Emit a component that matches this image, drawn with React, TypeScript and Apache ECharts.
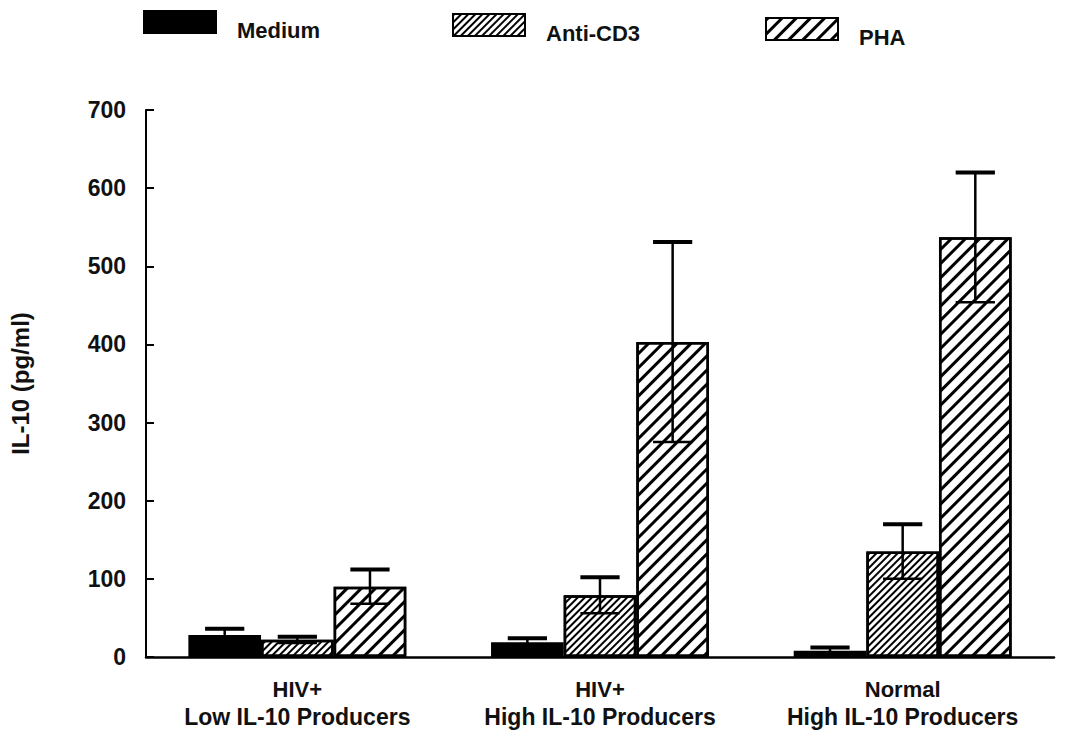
import React, { useEffect, useRef } from "react";
import * as echarts from "echarts";

const categories = ["HIV+|Low IL-10 Producers", "HIV+|High IL-10 Producers", "Normal|High IL-10 Producers"];
const seriesNames = ["Medium", "Anti-CD3", "PHA"];
const mediumValues = [28, 19, 8];
const antiCD3Values = [22, 79, 135];
const phaValues = [90, 403, 537];
const mediumErr = [8, 5, 4];
const antiCD3Err = [4, 23, 35];
const phaErr = [22, 128, 83];
const yTicks = [0, 100, 200, 300, 400, 500, 600, 700];

const FONT = "'Liberation Sans', Arial, Helvetica, sans-serif";
const CAT_GAP = 0.28;

export default function App() {
  const ref = useRef<HTMLDivElement>(null);
  useEffect(() => {
    if (!ref.current) return;
    const chart = echarts.init(ref.current, null, { renderer: "svg" });
    const values = [mediumValues, antiCD3Values, phaValues];
    const errs = [mediumErr, antiCD3Err, phaErr];
    const errData: any[] = [];
    values.forEach((vals, s) => {
      vals.forEach((v, c) => {
        errData.push([c, v - errs[s][c], v + errs[s][c], s]);
      });
    });
    const decals: any[] = [
      null,
      { symbol: "rect", dashArrayX: [1, 0], dashArrayY: [1.6, 3.0], rotation: -Math.PI / 4, color: "#000", symbolSize: 1 },
      { symbol: "rect", dashArrayX: [1, 0], dashArrayY: [3, 7], rotation: -Math.PI / 4, color: "#000", symbolSize: 1 },
    ];
    const legendPos = [
      { left: 143, top: 10 },
      { left: 452, top: 13 },
      { left: 765, top: 17 },
    ];
    const option: any = {
      animation: false,
      backgroundColor: "#fff",
      legend: seriesNames.map((n, i) => ({
        data: [n],
        left: legendPos[i].left,
        top: legendPos[i].top,
        padding: 0,
        itemWidth: 72,
        itemHeight: 22,
        itemGap: 0,
        icon: "rect",
        formatter: (name: string) => `{t|${name}}`,
        textStyle: {
          fontFamily: FONT,
          fontSize: 22,
          fontWeight: "bold",
          color: "#111",
          rich: { t: { fontFamily: FONT, fontSize: 22, fontWeight: "bold", color: "#111", padding: [16, 0, 0, 16] } },
        },
        selectedMode: false,
      })),
      grid: { left: 142, right: 15, top: 110, bottom: 94, containLabel: false },
      xAxis: {
        type: "category",
        data: categories,
        axisLine: { show: true, lineStyle: { color: "#000", width: 2.5 } },
        axisTick: { show: false },
        axisLabel: {
          margin: 18,
          interval: 0,
          formatter: (v: string) => {
            const [a, b] = v.split("|");
            return `{a|${a}}\n{b|${b}}`;
          },
          rich: {
            a: { fontFamily: FONT, fontSize: 22, fontWeight: "bold", color: "#111", lineHeight: 28 },
            b: { fontFamily: FONT, fontSize: 23, fontWeight: "bold", color: "#111", lineHeight: 28 },
          },
        },
      },
      yAxis: {
        type: "value",
        min: 0,
        max: 700,
        interval: 100,
        name: "IL-10 (pg/ml)",
        nameLocation: "middle",
        nameGap: 114,
        nameRotate: 90,
        nameTextStyle: { fontFamily: FONT, fontSize: 24, fontWeight: "bold", color: "#111" },
        axisLine: { show: true, lineStyle: { color: "#000", width: 2 } },
        axisTick: { show: true, inside: true, length: 8, lineStyle: { color: "#000", width: 2 } },
        splitLine: { show: false },
        axisLabel: {
          margin: 20,
          fontFamily: FONT,
          fontSize: 23,
          fontWeight: "bold",
          color: "#111",
          formatter: (v: number) => (yTicks.includes(v) ? String(v) : ""),
        },
      },
      series: [
        ...seriesNames.map((n, i) => ({
          name: n,
          type: "bar",
          data: values[i],
          barGap: "0%",
          barCategoryGap: CAT_GAP * 100 + "%",
          itemStyle: {
            color: i === 0 ? "#000" : "#fff",
            borderColor: "#000",
            borderWidth: 2.5,
            decal: decals[i] || undefined,
          },
        })),
        {
          type: "custom",
          name: "err",
          data: errData,
          z: 10,
          renderItem: (params: any, api: any) => {
            const c = api.value(0);
            const lo = api.value(1);
            const hi = api.value(2);
            const s = api.value(3);
            const band = api.size([1, 0])[0];
            const bw = (band * (1 - CAT_GAP)) / 3;
            const cx = api.coord([c, 0])[0] + (s - 1) * bw;
            const yLo = api.coord([c, lo])[1];
            const yHi = api.coord([c, hi])[1];
            const half = bw * 0.27;
            const st = { stroke: "#000", lineWidth: 2.5 };
            return {
              type: "group",
              children: [
                { type: "line", shape: { x1: cx, y1: yLo, x2: cx, y2: yHi }, style: st },
                { type: "line", shape: { x1: cx - half, y1: yHi, x2: cx + half, y2: yHi }, style: { stroke: "#000", lineWidth: 4 } },
                { type: "line", shape: { x1: cx - half, y1: yLo, x2: cx + half, y2: yLo }, style: st },
              ],
            };
          },
        },
      ],
    };
    chart.setOption(option);
    return () => chart.dispose();
  }, []);
  return <div ref={ref} style={{ width: 1069, height: 751, position: "absolute", left: 0, top: 0, background: "#fff" }} />;
}
